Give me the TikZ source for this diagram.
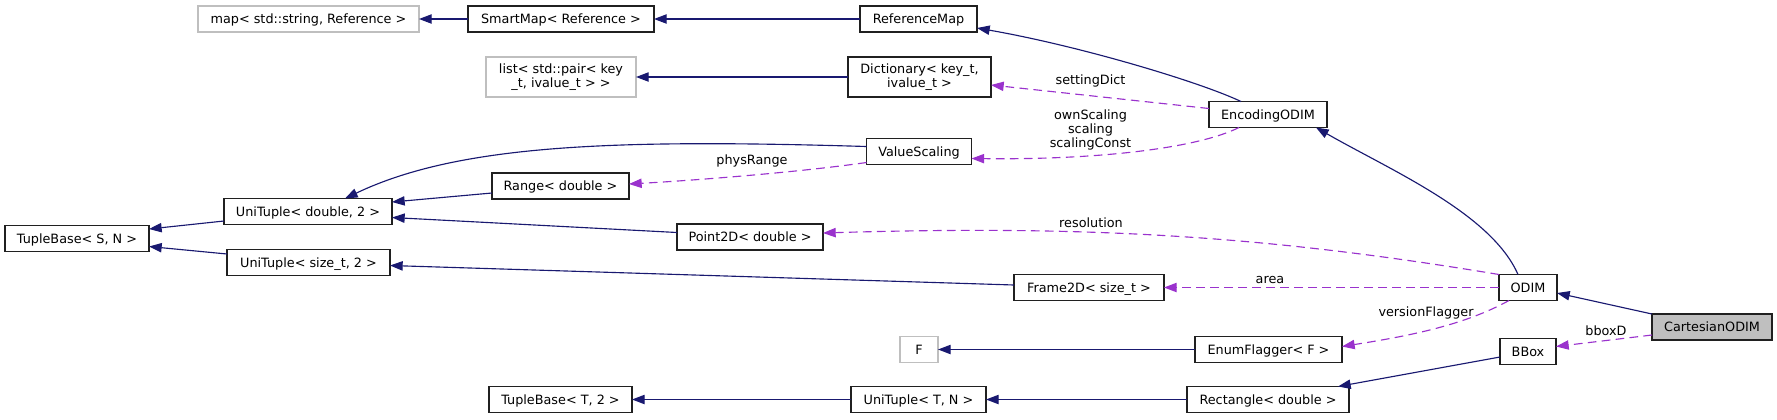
\documentclass[tikz,border=0pt]{standalone}
\usepackage{fontspec}
\setmainfont{DejaVu Sans}
\usetikzlibrary{arrows.meta,calc}
\definecolor{edgeblue}{HTML}{191970}
\definecolor{edgepurple}{HTML}{9A32CD}
\definecolor{lightborder}{HTML}{BFBFBF}
\definecolor{rootfill}{HTML}{BFBFBF}
\definecolor{boxborder}{HTML}{202020}
\begin{document}
\begin{tikzpicture}[x=0.75pt,y=-0.75pt,
  every node/.style={font=\fontsize{9.6}{10.5}\selectfont, inner sep=0pt, outer sep=0pt},
  bw/.style={minimum width=#1*0.75pt},
  cls/.style={draw=boxborder, line width=0.8pt, fill=white, minimum height=19.5pt, text height=7pt, text depth=0pt},
  extcls/.style={cls, draw=lightborder},
  cls2/.style={draw=boxborder, line width=0.8pt, fill=white, minimum height=30pt, align=center},
  extcls2/.style={cls2, draw=lightborder},
  lbl/.style={anchor=base, text=black},
  inh/.style={draw=edgeblue, line width=0.85pt, -{Triangle[length=9.5pt,width=7pt]}},
  use/.style={draw=edgepurple, line width=0.85pt, dash pattern=on 6.5pt off 4pt, -{Triangle[length=9.5pt,width=7pt]}}
]
\useasboundingbox (0,0) rectangle (1777,419);

% nodes
\node[extcls, bw=221] (map) at (308.5,19) {map< std::string, Reference >};
\node[cls, bw=186] (SmartMap) at (561,19) {SmartMap< Reference >};
\node[cls, bw=117] (ReferenceMap) at (918.5,19) {ReferenceMap};
\node[extcls2, bw=150] (list) at (561,77) {list< std::pair< key\\\_t, ivalue\_t > >};
\node[cls2, bw=143] (Dictionary) at (919.5,77) {Dictionary< key\_t,\\ivalue\_t >};
\node[cls, bw=118] (EncodingODIM) at (1268,114.5) {EncodingODIM};
\node[cls, bw=105] (ValueScaling) at (919,151.5) {ValueScaling};
\node[cls, bw=137] (Range) at (560.5,186) {Range< double >};
\node[cls, bw=168] (UTd) at (308,211.5) {UniTuple< double, 2 >};
\node[cls, bw=144] (TBSN) at (77,238.5) {TupleBase< S, N >};
\node[cls, bw=163] (UTs) at (308.5,262.5) {UniTuple< size\_t, 2 >};
\node[cls, bw=146] (Point2D) at (750,237) {Point2D< double >};
\node[cls, bw=150] (Frame2D) at (1089,287.5) {Frame2D< size\_t >};
\node[cls, bw=58] (ODIM) at (1528,287.5) {ODIM};
\node[cls, bw=120, fill=rootfill] (Cart) at (1712,327) {CartesianODIM};
\node[cls, bw=56] (BBox) at (1528,351.5) {BBox};
\node[cls, bw=147] (EnumFlagger) at (1268.5,349.5) {EnumFlagger< F >};
\node[extcls, bw=38] (F) at (919,349.5) {F};
\node[cls, bw=143] (TBT2) at (560.5,399.5) {TupleBase< T, 2 >};
\node[cls, bw=135] (UTTN) at (918.5,399.5) {UniTuple< T, N >};
\node[cls, bw=162] (Rectangle) at (1268,399.5) {Rectangle< double >};

% inheritance edges
\draw[inh] (SmartMap.west) -- (map.east);
\draw[inh] (ReferenceMap.west) -- (SmartMap.east);
\draw[inh] ($(EncodingODIM.north)+(-27,0)$) .. controls (1200,82) and (1080,46) .. ($(ReferenceMap.east)+(0,9)$);
\draw[inh] (Dictionary.west) -- (list.east);
\draw[inh] ($(ValueScaling.west)+(0,-5)$) .. controls (616,139) and (459,144) .. ($(UTd.north)+(37,0)$);
\draw[inh] ($(Range.west)+(0,7)$) -- ($(UTd.east)+(0,-9.5)$);
\draw[inh] ($(Point2D.west)+(0,-4.5)$) -- ($(UTd.east)+(0,6)$);
\draw[inh] ($(UTd.west)+(0,9.5)$) -- ($(TBSN.east)+(0,-9.5)$);
\draw[inh] ($(UTs.west)+(0,-8.5)$) -- ($(TBSN.east)+(0,8)$);
\draw[inh] ($(Frame2D.west)+(0,-2.5)$) -- ($(UTs.east)+(0,3)$);
\draw[inh] ($(ODIM.north)+(-10,0)$) .. controls (1491,213) and (1390,170) .. ($(EncodingODIM.south)+(48,0)$);
\draw[inh] ($(Cart.west)+(0,-13)$) -- ($(ODIM.east)+(0,5.5)$);
\draw[inh] (EnumFlagger.west) -- (F.east);
\draw[inh] (UTTN.west) -- (TBT2.east);
\draw[inh] (Rectangle.west) -- (UTTN.east);
\draw[inh] ($(BBox.west)+(0,5.5)$) -- ($(Rectangle.north)+(70,0)$);

% usage edges
\draw[use] ($(EncodingODIM.west)+(0,-6)$) -- ($(Dictionary.east)+(0,8)$);
\draw[use] ($(EncodingODIM.south)+(-29,0)$) .. controls (1199,147.5) and (1102,160) .. ($(ValueScaling.east)+(0,7)$);
\draw[use] ($(ValueScaling.west)+(0,11)$) .. controls (800,172) and (700,180) .. ($(Range.east)+(0,-2)$);
\draw[use] (ODIM.north west) .. controls (1267,236) and (1091,225) .. ($(Point2D.east)+(0,-4)$);
\draw[use] (ODIM.west) -- (Frame2D.east);
\draw[use] ($(ODIM.south)+(-19,0)$) .. controls (1462.6,326.1) and (1405,336.5) .. ($(EnumFlagger.east)+(0,-3)$);
\draw[use] ($(Cart.west)+(0,8)$) -- ($(BBox.east)+(0,-5)$);

% labels
\node[lbl] (l1) at (1090.5,84) {settingDict};
\node[align=center] (l2) at (1090.5,129.6) {ownScaling\\scaling\\scalingConst};
\node[lbl] (l3) at (752,164.3) {physRange};
\node[lbl] (l4) at (1091,227.3) {resolution};
\node[lbl] (l5) at (1270,283) {area};
\node[lbl] (l6) at (1426,316.7) {versionFlagger};
\node[lbl] (l7) at (1606,335.7) {bboxD};
\end{tikzpicture}
\end{document}
